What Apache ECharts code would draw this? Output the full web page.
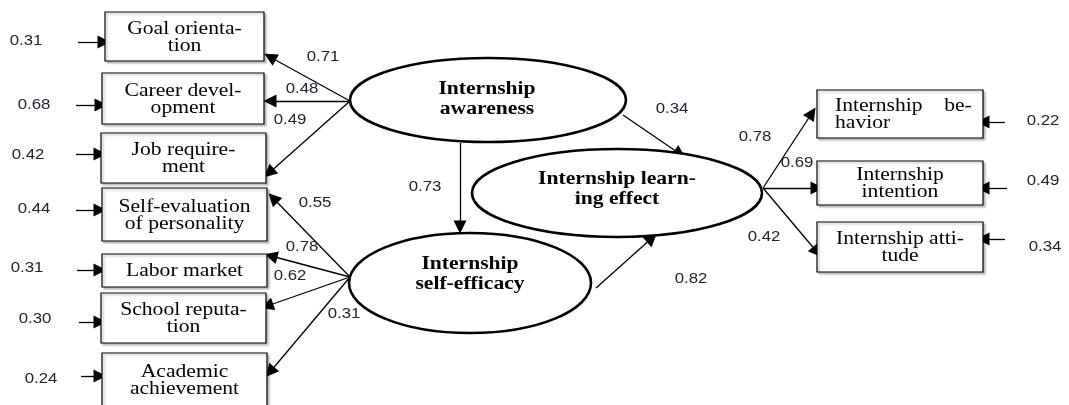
<!DOCTYPE html>
<html>
<head>
<meta charset="utf-8">
<script src="https://cdn.jsdelivr.net/npm/echarts@6/dist/echarts.min.js"></script>
<style>
html, body { margin: 0; padding: 0; background: #fff; }
#chart { width: 1069px; height: 405px; }
</style>
</head>
<body>
<div id="chart"></div>
<script>
// ---- data ----
var indicators = ['Goal orienta-\ntion', 'Career devel-\nopment', 'Job require-\nment',
    'Self-evaluation\nof personality', 'Labor market', 'School reputa-\ntion', 'Academic\nachievement',
    'Internship    be-\nhavior', 'Internship\nintention', 'Internship atti-\ntude']
var latents = ['Internship\nawareness', 'Internship learn-\ning effect', 'Internship\nself-efficacy']
// factor loadings, same order as indicators
var loadings = [0.71, 0.48, 0.49, 0.55, 0.78, 0.62, 0.31, 0.78, 0.69, 0.42]
// residual values, same order as indicators
var residuals = [0.31, 0.68, 0.42, 0.44, 0.31, 0.30, 0.24, 0.22, 0.49, 0.34]
// structural paths: awareness->self-efficacy, awareness->learning, self-efficacy->learning
var paths = [0.73, 0.34, 0.82]

// ---- layout (pixel space of the diagram) ----
var boxRects = [
    [105, 12, 159, 49], [102, 73, 162, 51], [101, 133, 165, 50],
    [102, 188, 165, 53], [102, 254, 165, 33], [101, 293, 165, 50], [102, 353, 165, 54],
    [817, 90, 166, 48], [817, 161, 166, 44], [817, 222, 166, 50]
]
var ellipses = [[488, 100, 138, 42], [617, 193, 145, 44], [470, 283, 121, 50]]
var latentText = [[487, 99], [617, 189], [470, 274]]
var loadingArrows = [
    [350, 101, 270, 57], [350, 101, 270, 101], [350, 101, 269, 173],
    [350, 277, 273, 198], [350, 277, 271, 256], [350, 277, 267, 306], [350, 277, 270, 372],
    [763, 188, 812, 113], [763, 188, 817, 188], [763, 188, 817, 252]
]
var loadingPos = [[323, 57], [302, 89], [290, 120], [315, 203], [302, 247], [290, 276], [344, 314],
    [755, 137], [797, 163], [764, 237]]
var residualArrows = [
    [78, 42, 104], [76, 105, 101], [76, 154, 100], [76, 210, 100], [77, 270, 100], [79, 322, 100], [81, 376, 100],
    [1005, 122, 983], [1007, 188, 983], [1005, 239, 983]
]
var residualPos = [[26, 41], [34, 105], [28, 155], [34, 209], [27, 268], [35, 319], [41, 379],
    [1043, 121], [1043, 181], [1045, 247]]
var pathArrows = [[460, 143, 460, 227], [623, 115, 680, 154], [596, 288, 652, 238]]
var pathPos = [[425, 187], [672, 109], [691, 279]]

var chart = echarts.init(document.getElementById('chart'))

var arrowData = []
loadingArrows.forEach(function (a) { arrowData.push({coords: [[a[0], a[1]], [a[2], a[3]]]}) })
residualArrows.forEach(function (a) { arrowData.push({coords: [[a[0], a[1]], [a[2], a[1]]]}) })
pathArrows.forEach(function (a) { arrowData.push({coords: [[a[0], a[1]], [a[2], a[3]]]}) })

var numbers = []
loadings.forEach(function (v, i) { numbers.push([loadingPos[i][0], loadingPos[i][1], v]) })
residuals.forEach(function (v, i) { numbers.push([residualPos[i][0], residualPos[i][1], v]) })
paths.forEach(function (v, i) { numbers.push([pathPos[i][0], pathPos[i][1], v]) })

var serif = '"Liberation Serif", "Times New Roman", serif'

chart.setOption({
    animation: false,
    grid: {left: 0, right: 0, top: 0, bottom: 0},
    xAxis: {type: 'value', min: 0, max: 1069, show: false},
    yAxis: {type: 'value', min: 0, max: 405, inverse: true, show: false},
    series: [
        {
            type: 'lines',
            coordinateSystem: 'cartesian2d',
            symbol: ['none', 'triangle'],
            symbolSize: [10, 13],
            lineStyle: {color: '#000', width: 1.3, opacity: 1},
            data: arrowData
        },
        {
            type: 'custom',
            name: 'indicators',
            data: indicators.map(function (t, i) { return [i] }),
            renderItem: function (params, api) {
                var i = params.dataIndex
                var r = boxRects[i]
                var p = api.coord([r[0], r[1]])
                var s = api.size([r[2], r[3]])
                var left = i === 7
                var tp = api.coord([left ? r[0] + 18 : r[0] + r[2] / 2, r[1] + r[3] / 2 + 1])
                return {
                    type: 'group',
                    children: [{
                        type: 'rect',
                        shape: {x: p[0], y: p[1], width: s[0], height: s[1]},
                        style: {fill: '#fff', stroke: '#000', lineWidth: 1.2,
                            shadowColor: 'rgba(0,0,0,0.25)', shadowBlur: 2, shadowOffsetX: 2, shadowOffsetY: 2}
                    }, {
                        type: 'text',
                        x: tp[0], y: tp[1], scaleX: 1.2,
                        style: {text: indicators[i], fontFamily: serif, fontSize: 18, lineHeight: 17,
                            fill: '#000', align: left ? 'left' : 'center', verticalAlign: 'middle'}
                    }]
                }
            }
        },
        {
            type: 'custom',
            name: 'latents',
            data: latents.map(function (t, i) { return [i] }),
            renderItem: function (params, api) {
                var i = params.dataIndex
                var e = ellipses[i]
                var c = api.coord([e[0], e[1]])
                var s = api.size([e[2], e[3]])
                var tp = api.coord(latentText[i])
                return {
                    type: 'group',
                    children: [{
                        type: 'ellipse',
                        shape: {cx: c[0], cy: c[1], rx: s[0], ry: s[1]},
                        style: {fill: '#fff', stroke: '#000', lineWidth: 2.6}
                    }, {
                        type: 'text',
                        x: tp[0], y: tp[1], scaleX: 1.2,
                        style: {text: latents[i], fontFamily: serif, fontSize: 18, fontWeight: 'bold',
                            lineHeight: 20, fill: '#000', align: 'center', verticalAlign: 'middle'}
                    }]
                }
            }
        },
        {
            type: 'custom',
            name: 'values',
            data: numbers,
            renderItem: function (params, api) {
                var p = api.coord([api.value(0), api.value(1)])
                return {
                    type: 'text',
                    x: p[0], y: p[1], scaleX: 1.2,
                    style: {text: api.value(2).toFixed(2), fontFamily: '"Liberation Sans", Arial, sans-serif',
                        fontSize: 14, fill: '#222233', align: 'center', verticalAlign: 'middle'}
                }
            }
        }
    ]
})
</script>
</body>
</html>
